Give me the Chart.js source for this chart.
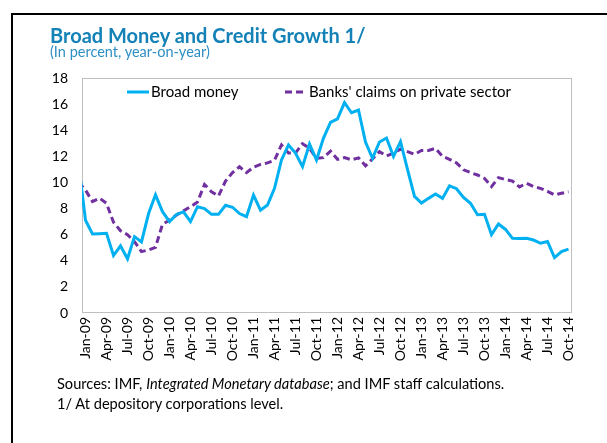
<!DOCTYPE html>
<html>
<head>
<meta charset="utf-8">
<title>Broad Money and Credit Growth</title>
<script src="https://cdn.jsdelivr.net/npm/chart.js@4.4.1/dist/chart.umd.min.js"></script>
<style>
  html, body { margin: 0; padding: 0; background: #fff; }
  body { width: 607px; height: 443px; position: relative; overflow: hidden; font-family: Lato, "Open Sans", sans-serif; }
  #frame { position: absolute; left: 11px; top: 13px; width: 700px; height: 500px; border-left: 2px solid #000; border-top: 2px solid #000; }
  #title { position: absolute; left: 50px; top: 23px; font-size: 20px; line-height: 24px; font-weight: bold; color: #1482b7; white-space: nowrap; }
  #subtitle { position: absolute; left: 50px; top: 43px; font-size: 14.5px; line-height: 17px; color: #2e8fc4; white-space: nowrap; }
  #notes { position: absolute; left: 57px; top: 374px; font-size: 14.6px; line-height: 20px; color: #000; white-space: nowrap; }
  #chart { position: absolute; left: 0; top: 0; }
</style>
</head>
<body>
<div id="frame"></div>
<canvas id="chart" width="607" height="443"></canvas>
<div id="title">Broad Money and Credit Growth 1/</div>
<div id="subtitle">(In percent, year-on-year)</div>
<div id="notes">Sources: IMF, <i>Integrated Monetary database</i>; and IMF staff calculations.<br>1/ At depository corporations level.</div>
<script>
// monthly categories, Dec-08 .. Oct-14 (Dec-08 only feeds the line into the left edge)
const monthNames = ['Jan', 'Feb', 'Mar', 'Apr', 'May', 'Jun', 'Jul', 'Aug', 'Sep', 'Oct', 'Nov', 'Dec'];
const months = ['Dec-08'];
for (let yr = 9; yr <= 14; yr++) {
    for (let m = 0; m < 12; m++) {
        if (yr === 14 && m > 9) break;
        months.push(monthNames[m] + '-' + String(yr).padStart(2, '0'));
    }
}

const broadMoney = [
    11.5,
    7.1, 6.05, 6.07, 6.1, 4.4, 5.15, 4.15, 5.85, 5.45, 7.6, 9.05, 7.76,
    7.0, 7.55, 7.75, 7.0, 8.14, 8.0, 7.56, 7.56, 8.25, 8.1, 7.62, 7.38,
    9.03, 7.87, 8.27, 9.55, 11.72, 12.87, 12.25, 11.21, 12.94, 11.72, 13.4, 14.6,
    14.87, 16.12, 15.34, 15.55, 13.1, 11.85, 13.1, 13.4, 12.0, 13.12, 11.0, 8.93,
    8.42, 8.78, 9.11, 8.78, 9.74, 9.52, 8.85, 8.4, 7.53, 7.56, 6.0, 6.82,
    6.4, 5.72, 5.7, 5.72, 5.59, 5.34, 5.48, 4.24, 4.7, 4.89
];

const privateCredit = [
    10.0,
    9.42, 8.53, 8.8, 8.4, 6.95, 6.3, 6.0, 5.46, 4.7, 4.83, 5.03, 6.8,
    7.1, 7.51, 7.82, 8.14, 8.5, 9.85, 9.29, 8.96, 10.1, 10.75, 11.2, 10.75,
    11.17, 11.38, 11.5, 11.7, 12.87, 12.25, 12.25, 12.97, 12.61, 11.85, 11.9, 12.4,
    11.77, 11.9, 11.74, 11.88, 11.28, 11.8, 12.36, 12.03, 12.25, 12.55, 12.36, 12.15,
    12.45, 12.45, 12.61, 12.0, 11.77, 11.5, 10.97, 10.76, 10.57, 10.31, 9.68, 10.37,
    10.22, 10.1, 9.66, 9.93, 9.68, 9.55, 9.32, 9.04, 9.17, 9.29
];

const yTicks = [0, 2, 4, 6, 8, 10, 12, 14, 16, 18];

// grey box round the plot area
const plotBorder = {
    id: 'plotBorder',
    beforeDatasetsDraw(chart) {
        const { ctx, chartArea } = chart;
        ctx.save();
        ctx.strokeStyle = '#bfbfbf';
        ctx.lineWidth = 1;
        ctx.strokeRect(chartArea.left + 0.5, chartArea.top + 0.5, chartArea.width - 1, chartArea.height - 1);
        ctx.restore();
    }
};

// legend sits inside the plot, on one row
const insideLegend = {
    id: 'insideLegend',
    afterDraw(chart) {
        const { ctx, chartArea } = chart;
        const y = chartArea.top + 14;
        const starts = [45, 203];
        ctx.save();
        ctx.font = '15px Lato';
        ctx.textBaseline = 'middle';
        ctx.fillStyle = '#000';
        chart.data.datasets.forEach((ds, i) => {
            const x = chartArea.left + starts[i];
            ctx.strokeStyle = ds.borderColor;
            ctx.lineWidth = ds.borderWidth;
            ctx.setLineDash(ds.borderDash || []);
            ctx.beginPath();
            ctx.moveTo(x, y);
            ctx.lineTo(x + 22, y);
            ctx.stroke();
            ctx.setLineDash([]);
            ctx.fillText(ds.label, x + 24, y);
        });
        ctx.restore();
    }
};

new Chart(document.getElementById('chart'), {
    type: 'line',
    data: {
        labels: months,
        datasets: [
            {
                label: 'Broad money',
                data: broadMoney,
                borderColor: '#00b0f0',
                borderWidth: 3,
                pointRadius: 0,
                tension: 0,
                fill: false
            },
            {
                label: "Banks' claims on private sector",
                data: privateCredit,
                borderColor: '#7030a0',
                borderWidth: 3,
                borderDash: [7, 4],
                pointRadius: 0,
                tension: 0,
                fill: false
            }
        ]
    },
    options: {
        responsive: false,
        animation: false,
        devicePixelRatio: 1,
        layout: { padding: { left: 40, top: 78, right: 35, bottom: 70 } },
        plugins: {
            legend: { display: false },
            tooltip: { enabled: false }
        },
        scales: {
            x: {
                min: 'Jan-09',
                offset: true,
                grid: { display: false, drawTicks: false },
                border: { display: false },
                afterFit: function(scale) { scale.height = 60; },
                ticks: {
                    autoSkip: false,
                    maxRotation: 90,
                    minRotation: 90,
                    padding: 4,
                    color: '#000',
                    font: { family: 'Lato', size: 14 },
                    callback: function(value) {
                        return (value - 1) % 3 === 0 ? this.getLabelForValue(value) : '';
                    }
                }
            },
            y: {
                min: 0,
                max: 18,
                grid: { display: false, drawTicks: false },
                border: { display: false },
                afterFit: function(scale) { scale.width = 42; },
                afterBuildTicks: function(scale) { scale.ticks = yTicks.map(v => ({ value: v })); },
                ticks: {
                    padding: 14,
                    color: '#000',
                    font: { family: 'Lato', size: 14 }
                }
            }
        }
    },
    plugins: [plotBorder, insideLegend]
});
</script>
</body>
</html>
